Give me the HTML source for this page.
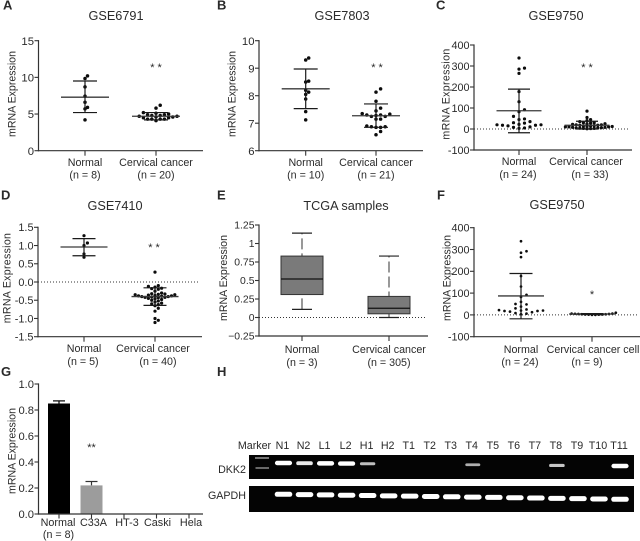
<!DOCTYPE html>
<html lang="en">
<head>
<meta charset="utf-8">
<title>DKK2 mRNA expression panels</title>
<style>
html,body{margin:0;padding:0;background:#fff;width:640px;height:541px;overflow:hidden}
svg{display:block;filter:blur(0.3px)}
text{font-family:"Liberation Sans",Arial,sans-serif;fill:#2a2a2a}
</style>
</head>
<body>
<svg id="figure" xmlns="http://www.w3.org/2000/svg" width="640" height="541" viewBox="0 0 640 541"></svg>
<script>
// ---- Panel A data ----
const gse6791Normal = [10.2, 9.85, 8.7, 7.45, 6.6, 5.9, 5.7, 4.2];
const gse6791Cancer = [6.2, 5.8, 5.2, 5.1, 5.0, 4.9, 4.9, 4.8, 4.8, 4.7, 4.7, 4.6, 4.6, 4.5, 4.5, 4.3, 4.3, 4.3, 4.3, 4.1];
const gse6791NormalStats = [7.3, 5.2, 9.5];
const gse6791CancerStats = [4.7, 4.2, 5.2];
const gse6791Ticks = [0, 5, 10, 15];
// ---- Panel B data ----
const gse7803Normal = [9.37, 9.3, 8.53, 8.5, 8.2, 8.13, 8.05, 7.88, 7.42, 7.12];
const gse7803Cancer = [8.25, 8.13, 7.8, 7.55, 7.45, 7.35, 7.33, 7.3, 7.3, 7.28, 7.25, 7.25, 7.15, 7.15, 6.9, 6.87, 6.87, 6.85, 6.85, 6.7, 6.58];
const gse7803NormalStats = [8.25, 7.53, 8.97];
const gse7803CancerStats = [7.27, 6.85, 7.7];
const gse7803Ticks = [6, 7, 8, 9, 10];
// ---- Panel C data ----
const gse9750Normal = [338, 290, 285, 265, 178, 130, 92, 82, 60, 48, 45, 35, 30, 28, 22, 20, 20, 18, 18, 15, 10, 8, 5, 3];
const gse9750Cancer = [85, 55, 45, 40, 35, 30, 30, 28, 25, 25, 22, 20, 20, 18, 18, 16, 15, 15, 12, 12, 10, 10, 10, 8, 8, 6, 5, 5, 4, 3, 3, 2, 1];
const gse9750NormalStats = [87, -18, 190];
const gse9750CancerStats = [18, 0, 37];
const gse9750Ticks = [-100, 0, 100, 200, 300, 400];
// ---- Panel D data ----
const gse7410Normal = [1.27, 1.07, 1.0, 0.77, 0.68];
const gse7410Cancer = [0.27, -0.1, -0.12, -0.14, -0.17, -0.18, -0.2, -0.25, -0.3, -0.32, -0.33, -0.34, -0.35, -0.35, -0.36, -0.37, -0.38, -0.38, -0.39, -0.4, -0.4, -0.41, -0.42, -0.42, -0.43, -0.45, -0.46, -0.48, -0.5, -0.52, -0.55, -0.58, -0.62, -0.65, -0.72, -0.8, -1.0, -1.05, -1.11, -0.6];
const gse7410NormalStats = [0.96, 0.72, 1.19];
const gse7410CancerStats = [-0.4, -0.64, -0.16];
const gse7410Ticks = [-1.5, -1.0, -0.5, 0.0, 0.5, 1.0, 1.5];
// ---- Panel E data: whisker low, q1, median, q3, whisker high ----
const tcgaNormalBox = [0.11, 0.31, 0.52, 0.83, 1.14];
const tcgaCancerBox = [0, 0.05, 0.125, 0.285, 0.83];
const tcgaTicks = [-0.25, 0, 0.25, 0.5, 0.75, 1, 1.25];
const tcgaTickLabels = ['\u22120.25', '0', '0.25', '0.5', '0.75', '1', '1.25'];
// ---- Panel F data ----
const cellNormal = [338, 292, 285, 265, 178, 130, 92, 82, 60, 50, 48, 38, 30, 25, 22, 20, 20, 18, 18, 15, 12, 8, 6, 3];
const cellLines = [10, 6, 6, 5, 4, 4, 3, 3, 2, 2, 1, 1, 0, 0];
const cellNormalStats = [87, -18, 190];
const cellLinesStats = [4, 2, 6];
const cellTicks = [-100, 0, 100, 200, 300, 400];
// ---- Panel G data ----
const barCategories = ['Normal', 'C33A', 'HT-3', 'Caski', 'Hela'];
const barValues = [0.85, 0.22, 0, 0, 0];
const barErrors = [0.02, 0.03, 0, 0, 0];
const barColors = ['#000000', '#9c9c9c', '#9c9c9c', '#9c9c9c', '#9c9c9c'];
const barTicks = [0, 0.2, 0.4, 0.6, 0.8, 1.0];
// ---- Panel H gel: intensity per lane ----
const gelLanes = ['N1', 'N2', 'L1', 'L2', 'H1', 'H2', 'T1', 'T2', 'T3', 'T4', 'T5', 'T6', 'T7', 'T8', 'T9', 'T10', 'T11'];
const dkk2Intensity = [1, 0.85, 1, 1, 0.55, 0, 0, 0, 0, 0.45, 0, 0, 0, 0.6, 0, 0, 1];
const gapdhIntensity = [1, 1, 1, 1, 1, 1, 1, 1, 1, 1, 1, 1, 1, 1, 1, 1, 1];

const svg = document.getElementById('figure');
const NS = 'http://www.w3.org/2000/svg';

function shape(tag, attrs, parent) {
  const el = document.createElementNS(NS, tag);
  for (const k in attrs) el.setAttribute(k, attrs[k]);
  (parent || svg).appendChild(el);
  return el;
}
function line(x1, y1, x2, y2, color, width, name) {
  const el = shape('line', {x1: x1, y1: y1, x2: x2, y2: y2, stroke: color, 'stroke-width': width});
  
  
  return el;
}
function label(str, x, y, size, anchor, name, weight) {
  const el = shape('text', {x: x, y: y, 'font-size': size, 'text-anchor': anchor});
  if (weight) el.setAttribute('font-weight', weight);
  el.textContent = str;
  
  
  return el;
}
function axes(p) {
  const scale = v => p.y0 + (v - p.min) / (p.max - p.min) * (p.y1 - p.y0);
  line(p.x, p.y1 - 0.6, p.x, p.y0 + 0.6, '#333', 1.2, p.id + '-y-axis');
  line(p.x - 0.6, p.y0, p.xEnd, p.y0, '#333', 1.2, p.id + '-x-axis');
  p.ticks.forEach((t, i) => {
    const y = scale(t);
    line(p.x - 4, y, p.x, y, '#333', 1.1, p.id + '-y-tick');
    const text = p.tickLabels ? p.tickLabels[i] : (p.fixed === undefined ? String(t) : t.toFixed(p.fixed));
    label(text, p.x - 4.5, y + p.tickSize * 0.36, p.tickSize, 'end', p.id + '-y-tick-label');
  });
  const title = label('mRNA Expression', 0, 0, p.titleSize || 10.6, 'middle', p.id + '-y-axis-title');
  title.setAttribute('transform', 'translate(' + p.titleX + ' ' + p.titleY + ') rotate(-90)');
  if (p.spacing) title.setAttribute('letter-spacing', p.spacing);
  if (p.title) label(p.title, p.titleCx, p.titleBase, 12.7, 'middle', p.id + '-chart-title');
  label(p.letter, p.letterX, p.letterY, 13, 'start', p.id + '-panel-letter', 'bold');
  if (p.zero) {
    const z = line(p.x, scale(0), p.xEnd - 2, scale(0), '#333', 1, p.id + '-zero-line');
    z.setAttribute('stroke-dasharray', '1 2');
  }
  return scale;
}
function category(p, cx, upper, lower, upperDx, lowerDx) {
  line(cx, p.y0, cx, p.y0 + 5, '#333', 1.1, p.id + '-x-tick');
  label(upper, cx + upperDx, p.y0 + p.lab1, 10.7, 'middle', p.id + '-x-label');
  label(lower, cx + lowerDx, p.y0 + p.lab2, 10.7, 'middle', p.id + '-x-sample-size');
}
function swarm(values, scale, cx, r, step, rowH, name) {
  const placed = [];
  [...values].sort((a, b) => a - b).forEach(v => {
    const y = scale(v);
    let k = 0, n = 0, x = cx;
    for (;;) {
      x = cx + k * step;
      const hit = placed.some(q => Math.abs(q[0] - x) < step * 0.9 && Math.abs(q[1] - y) < rowH);
      if (!hit) break;
      n++;
      k = n % 2 ? (n + 1) / 2 : -n / 2;
    }
    placed.push([x, y]);
    const dot = shape('circle', {cx: x, cy: y, r: r, fill: '#0c0c0c'});
    
    
  });
}
function stats(s, scale, cx, meanHalf, capHalf, name) {
  line(cx - meanHalf, scale(s[0]), cx + meanHalf, scale(s[0]), '#3a3a3a', 1.3, name + '-mean-line');
  line(cx, scale(s[1]), cx, scale(s[2]), '#1a1a1a', 1.2, name + '-error-bar');
  line(cx - capHalf, scale(s[1]), cx + capHalf, scale(s[1]), '#1a1a1a', 1.2, name + '-error-cap-low');
  line(cx - capHalf, scale(s[2]), cx + capHalf, scale(s[2]), '#1a1a1a', 1.2, name + '-error-cap-high');
}
function scatterPanel(p, normal, cancer, nStats, cStats, nTxt, cTxt, cUpper, stars) {
  const scale = axes(p);
  swarm(normal, scale, p.cx1, p.r, p.step1, p.rowH1, p.id + '-normal-point');
  swarm(cancer, scale, p.cx2, p.r, p.step2, p.rowH2, p.id + '-cancer-point');
  stats(nStats, scale, p.cx1, p.meanHalf, p.capHalf, p.id + '-normal');
  stats(cStats, scale, p.cx2, p.meanHalf, p.capHalf, p.id + '-cancer');
  category(p, p.cx1, 'Normal', nTxt, p.d1, p.d2);
  category(p, p.cx2, cUpper, cTxt, p.d3, p.d4);
  label(stars, p.starX, p.starY, 11, 'middle', p.id + '-significance-stars');
}

scatterPanel({id: 'panel-a', letter: 'A', letterX: 3, letterY: 9.5, title: 'GSE6791', titleCx: 116, titleBase: 20,
  x: 38.5, xEnd: 203, y0: 150.7, y1: 40.7, min: 0, max: 15, ticks: gse6791Ticks, tickSize: 11.3,
  titleX: 15.5, titleY: 94, cx1: 85, cx2: 156, r: 1.75, step1: 2.5, step2: 4.2, rowH1: 3, rowH2: 3.3, meanHalf: 24, capHalf: 12,
  lab1: 15.5, lab2: 27.8, d1: 0, d2: 0, d3: 0, d4: 0, starX: 156, starY: 71},
  gse6791Normal, gse6791Cancer, gse6791NormalStats, gse6791CancerStats, '(n = 8)', '(n = 20)', 'Cervical cancer', '* *');

scatterPanel({id: 'panel-b', letter: 'B', letterX: 217, letterY: 9.5, title: 'GSE7803', titleCx: 342, titleBase: 20,
  x: 259, xEnd: 423, y0: 150.7, y1: 40.7, min: 6, max: 10, ticks: gse7803Ticks, tickSize: 11.3,
  titleX: 235.5, titleY: 94, cx1: 305.7, cx2: 376, r: 1.75, step1: 3, step2: 4.6, rowH1: 3.4, rowH2: 3.4, meanHalf: 24, capHalf: 12,
  lab1: 15.5, lab2: 27.8, d1: 0, d2: 0, d3: 0, d4: 0, starX: 377, starY: 71},
  gse7803Normal, gse7803Cancer, gse7803NormalStats, gse7803CancerStats, '(n = 10)', '(n = 21)', 'Cervical cancer', '* *');

scatterPanel({id: 'panel-c', letter: 'C', letterX: 436, letterY: 9.5, title: 'GSE9750', titleCx: 556, titleBase: 20,
  x: 474, xEnd: 632, y0: 150, y1: 45, min: -100, max: 400, ticks: gse9750Ticks, tickSize: 10.8, zero: true,
  titleX: 449.5, titleY: 94, spacing: 0.35, cx1: 519, cx2: 587, r: 1.6, step1: 5.5, step2: 3.6, rowH1: 3.6, rowH2: 2.2, meanHalf: 22.5, capHalf: 11,
  lab1: 15, lab2: 28, d1: 0, d2: -1, d3: -1, d4: 3, starX: 587, starY: 71},
  gse9750Normal, gse9750Cancer, gse9750NormalStats, gse9750CancerStats, '(n = 24)', '(n = 33)', 'Cervical cancer', '* *');

scatterPanel({id: 'panel-d', letter: 'D', letterX: 1, letterY: 199.5, title: 'GSE7410', titleCx: 115, titleBase: 210,
  x: 38, xEnd: 202, y0: 336.7, y1: 227.3, min: -1.5, max: 1.5, ticks: gse7410Ticks, fixed: 1, tickSize: 10.9, zero: true,
  titleX: 10.5, titleY: 278, spacing: 0.3, cx1: 84, cx2: 155, r: 1.6, step1: 3.4, step2: 3.3, rowH1: 3, rowH2: 3, meanHalf: 23.5, capHalf: 11.5,
  lab1: 15.5, lab2: 28.5, d1: 0, d2: -1, d3: -2, d4: 3, starX: 154, starY: 251},
  gse7410Normal, gse7410Cancer, gse7410NormalStats, gse7410CancerStats, '(n = 5)', '(n = 40)', 'Cervical cancer', '* *');

scatterPanel({id: 'panel-f', letter: 'F', letterX: 437, letterY: 199.5, title: 'GSE9750', titleCx: 557, titleBase: 209,
  x: 474, xEnd: 640, y0: 336.7, y1: 227.7, min: -100, max: 400, ticks: cellTicks, tickSize: 10.8, zero: true,
  titleX: 450.5, titleY: 278, cx1: 521, cx2: 592, r: 1.35, step1: 5.5, step2: 3.4, rowH1: 3.6, rowH2: 2.6, meanHalf: 23, capHalf: 11.5,
  lab1: 16.5, lab2: 29, d1: 0, d2: -1, d3: 1, d4: -5, starX: 592, starY: 298},
  cellNormal, cellLines, cellNormalStats, cellLinesStats, '(n = 24)', '(n = 9)', 'Cervical cancer cell', '*');

// Panel E: box plot
(function () {
  const p = {id: 'panel-e', letter: 'E', letterX: 217, letterY: 199.5, title: 'TCGA samples', titleCx: 346, titleBase: 210,
    x: 259, xEnd: 428, y0: 336, y1: 225, min: -0.25, max: 1.25, ticks: tcgaTicks, tickLabels: tcgaTickLabels, tickSize: 10.4, zero: true,
    titleX: 227, titleY: 278, lab1: 17, lab2: 30};
  const scale = axes(p);
  function box(v, cx, name) {
    const whisker = line(cx, scale(v[0]), cx, scale(v[4]), '#555', 1.2, name + '-whisker');
    whisker.setAttribute('stroke-dasharray', '11 4');
    line(cx - 10, scale(v[0]), cx + 10, scale(v[0]), '#222', 1.2, name + '-whisker-cap-low');
    line(cx - 10, scale(v[4]), cx + 10, scale(v[4]), '#222', 1.2, name + '-whisker-cap-high');
    const rect = shape('rect', {x: cx - 21, y: scale(v[3]), width: 42, height: scale(v[1]) - scale(v[3]), fill: '#7a7a7a', stroke: '#333', 'stroke-width': 1});
    
    
    line(cx - 21, scale(v[2]), cx + 21, scale(v[2]), '#111', 1.2, name + '-median');
  }
  box(tcgaNormalBox, 302, 'panel-e-normal');
  box(tcgaCancerBox, 389, 'panel-e-cancer');
  category(p, 302, 'Normal', '(n = 3)', 0, 0);
  category(p, 389, 'Cervical cancer', '(n = 305)', 0, 0);
})();

// Panel G: bar chart
(function () {
  const p = {id: 'panel-g', letter: 'G', letterX: 1, letterY: 376, title: '', titleCx: 0, titleBase: 0,
    x: 38.5, xEnd: 203, y0: 514, y1: 384, min: 0, max: 1, ticks: barTicks, fixed: 1, tickSize: 11.2,
    titleX: 15.5, titleY: 451};
  const scale = v => p.y0 + (v - p.min) / (p.max - p.min) * (p.y1 - p.y0);
  const cxs = i => 59 + i * 32.5;
  const xDisp = [-1, 2, 3, 1, 2];
  barCategories.forEach((c, i) => {
    const cx = cxs(i);
    if (barValues[i] > 0) {
      line(cx, scale(barValues[i]), cx, scale(barValues[i] + barErrors[i]), barColors[i] === '#000000' ? '#000' : '#333', 1.2, 'panel-g-error-bar');
      line(cx - 6, scale(barValues[i] + barErrors[i]), cx + 6, scale(barValues[i] + barErrors[i]), barColors[i] === '#000000' ? '#000' : '#333', 1.2, 'panel-g-error-cap');
      const bar = shape('rect', {x: cx - 11, y: scale(barValues[i]), width: 22, height: p.y0 - scale(barValues[i]), fill: barColors[i]});
      
      
    }
    line(cx, p.y0, cx, p.y0 + 4.5, '#333', 1.1, 'panel-g-x-tick');
    label(c, cx + xDisp[i], 525.8, 10.8, 'middle', 'panel-g-x-label');
  });
  label('(n = 8)', 58.5, 538, 10.7, 'middle', 'panel-g-sample-size');
  axes(p);
  label('**', 91.5, 451, 11, 'middle', 'panel-g-significance-stars');
})();

// Panel H: gel image
(function () {
  const n = gelLanes.length;
  label('H', 217, 376, 13, 'start', 'panel-h-letter', 'bold');
  const gel1 = shape('rect', {x: 249, y: 455, width: 385, height: 24, fill: '#040404'});
  
  
  const gel2 = shape('rect', {x: 249, y: 486, width: 385, height: 26, fill: '#040404'});
  
  
  label('Marker', 254.5, 449, 10.7, 'middle', 'gel-lane-label-marker');
  label('DKK2', 246, 473, 10.7, 'end', 'dkk2-row-label');
  label('GAPDH', 246, 499, 10.7, 'end', 'gapdh-row-label');
  line(255, 458, 269, 458, '#9a9a9a', 1.5, 'marker-band-upper');
  line(255.5, 468, 269, 468, '#8a8a8a', 1.5, 'marker-band-lower');
  const lanePos = i => 282.5 + i * (619 - 282.5) / (n - 1);
  function band(i, intensity, y, halfW, h, name) {
    if (intensity <= 0) return;
    const cx = lanePos(i) + 1;
    const g = Math.round(110 + 145 * intensity);
    const el = shape('rect', {x: cx - halfW, y: y - h / 2, width: halfW * 2, height: h, rx: h / 2, fill: 'rgb(' + g + ',' + g + ',' + g + ')'});
    
    
  }
  gelLanes.forEach((lane, i) => {
    label(lane, lanePos(i), 449, 10.7, 'middle', 'gel-lane-label');
    band(i, dkk2Intensity[i], 463 + i * 3 / (n - 1), 8.6 - (1 - dkk2Intensity[i]) * 2, 1.4 + dkk2Intensity[i] * 3, 'dkk2-band-' + lane.toLowerCase());
    band(i, gapdhIntensity[i], 494.3 + i * 5 / (n - 1), 8.8, 5, 'gapdh-band-' + lane.toLowerCase());
  });
})();
</script>
</body>
</html>
